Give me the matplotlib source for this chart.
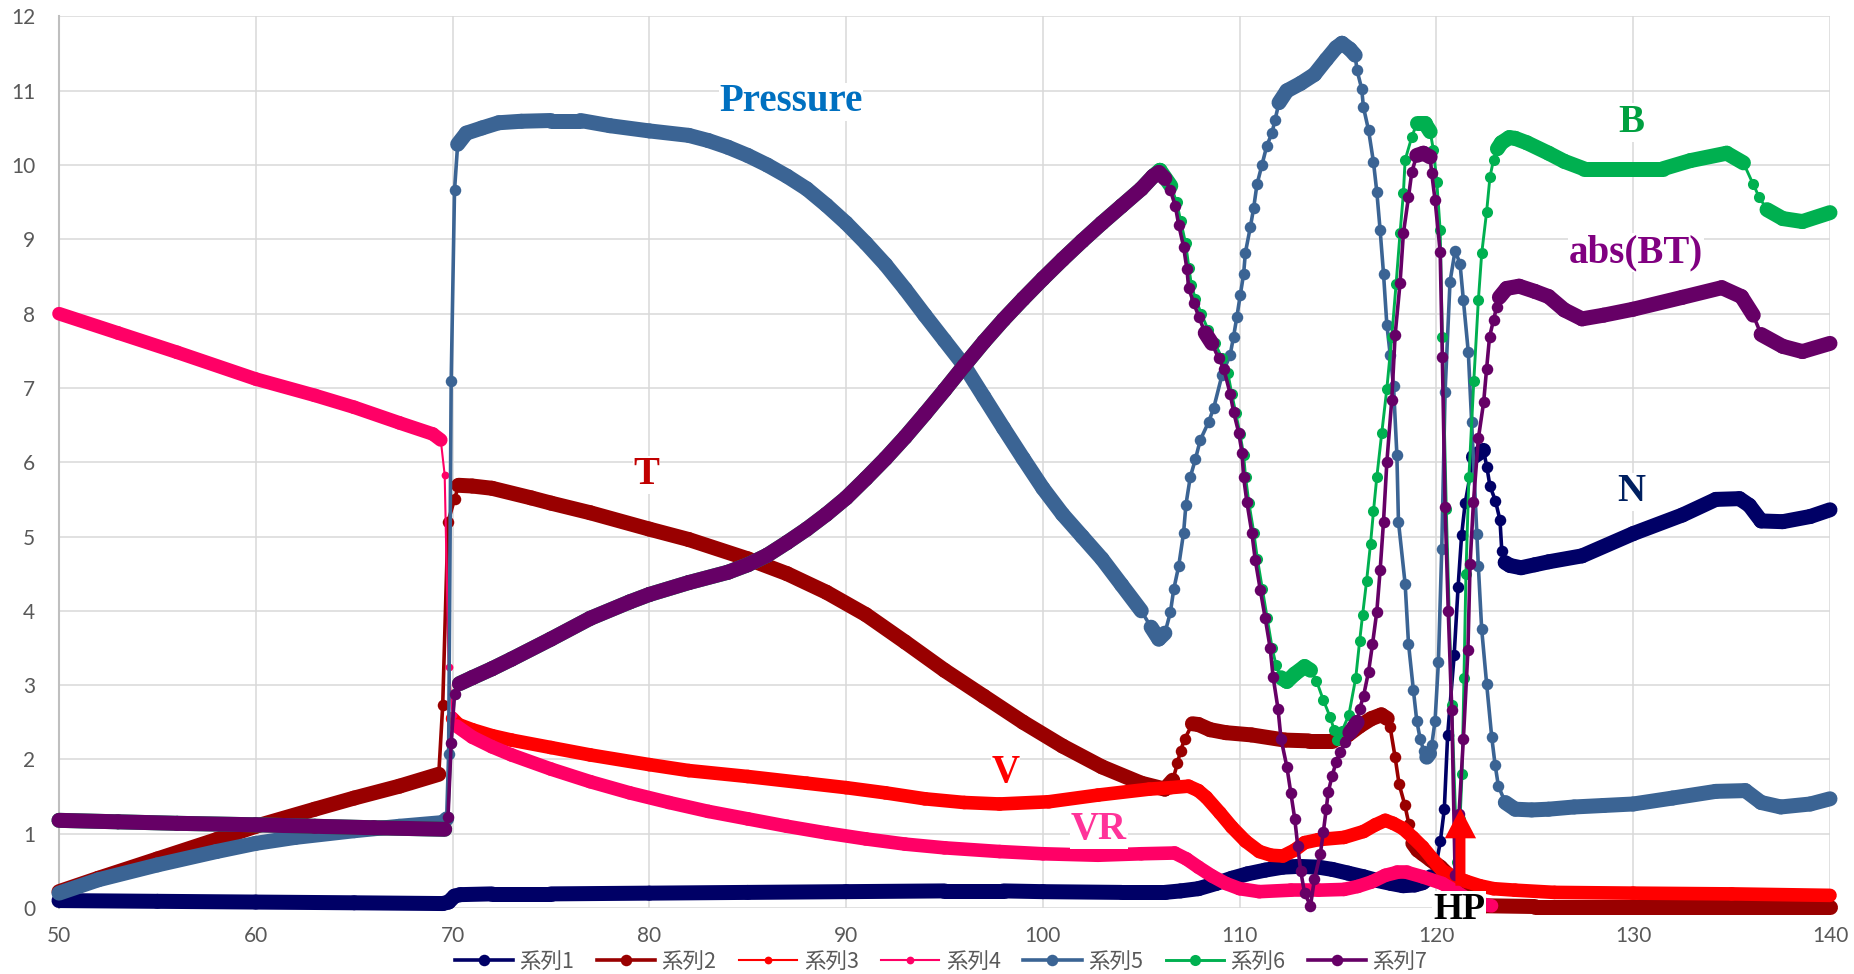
import numpy as np
import matplotlib
matplotlib.use("Agg")
import matplotlib.pyplot as plt
from matplotlib.collections import LineCollection
from matplotlib.font_manager import FontProperties

plt.rcParams["font.family"] = ["Lato", "Noto Sans CJK JP", "DejaVu Sans"]

# ---------------------------------------------------------------- data
# (x, value) samples for each series
series1_N = [
    (50.0, 0.10), (55.0, 0.09), (60.0, 0.08), (65.0, 0.07), (69.5, 0.06), (69.8, 0.08), (70.1, 0.16),
    (70.4, 0.18), (72.0, 0.19), (75.0, 0.19), (80.0, 0.20), (85.0, 0.21), (90.0, 0.22), (95.0, 0.23),
    (98.0, 0.23), (100.0, 0.22), (104.0, 0.21), (106.2, 0.21), (107.0, 0.23), (107.9, 0.26), (108.8, 0.33),
    (109.6, 0.40), (110.4, 0.46), (111.3, 0.51), (112.2, 0.55), (113.0, 0.56), (114.0, 0.55), (114.7, 0.52),
    (115.5, 0.47), (116.3, 0.42), (117.0, 0.37), (117.7, 0.33), (118.3, 0.30), (118.9, 0.31), (119.3, 0.34),
    (119.7, 0.42), (120.0, 0.60), (120.2, 0.90), (120.4, 1.33), (120.57, 2.33), (120.9, 3.40), (121.1, 4.32),
    (121.28, 5.02), (121.46, 5.45), (121.88, 6.07), (122.39, 6.16), (122.56, 5.94), (122.72, 5.68),
    (123.0, 5.48), (123.23, 5.22), (123.32, 4.81), (123.49, 4.65), (123.74, 4.61), (124.3, 4.58),
    (125.0, 4.62), (125.7, 4.66), (127.4, 4.74), (130.0, 5.04), (132.5, 5.29), (134.2, 5.50), (135.4, 5.51),
    (135.9, 5.42), (136.5, 5.21), (137.6, 5.20), (139.0, 5.27), (140.0, 5.36),
]

series2_T = [
    (50.0, 0.22), (52.0, 0.40), (55.0, 0.66), (58.0, 0.92), (60.0, 1.10), (63.0, 1.33), (65.0, 1.48),
    (67.3, 1.64), (69.3, 1.80), (69.5, 2.73), (69.77, 5.20), (70.1, 5.50), (70.3, 5.69), (71.0, 5.68),
    (72.0, 5.65), (74.0, 5.52), (75.0, 5.45), (77.0, 5.32), (80.0, 5.10), (82.0, 4.96), (85.0, 4.70),
    (87.0, 4.50), (89.0, 4.25), (91.0, 3.95), (93.0, 3.58), (95.0, 3.20), (97.0, 2.85), (99.0, 2.50),
    (101.0, 2.18), (103.0, 1.90), (105.0, 1.68), (106.2, 1.60), (106.6, 1.72), (106.84, 1.95), (107.0, 2.12),
    (107.2, 2.27), (107.6, 2.48), (107.9, 2.47), (108.5, 2.40), (109.3, 2.36), (110.6, 2.33), (112.3, 2.26),
    (113.5, 2.25), (114.7, 2.25), (115.5, 2.33), (116.1, 2.45), (116.7, 2.55), (117.2, 2.60), (117.5, 2.55),
    (117.65, 2.43), (117.9, 2.03), (118.1, 1.67), (118.4, 1.38), (118.6, 1.13), (118.8, 0.87), (119.05, 0.78),
    (119.3, 0.73), (119.7, 0.65), (120.2, 0.55), (120.7, 0.42), (121.2, 0.30), (121.6, 0.18), (122.0, 0.08),
    (122.5, 0.03), (125.0, 0.02), (130.0, 0.02), (135.0, 0.02), (140.0, 0.02),
]

series3_V = [
    (70.0, 2.55), (70.3, 2.47), (71.0, 2.40), (72.0, 2.32), (73.0, 2.26), (75.0, 2.16), (77.0, 2.06),
    (80.0, 1.93), (82.0, 1.85), (85.0, 1.77), (88.0, 1.68), (90.0, 1.62), (92.0, 1.55), (94.0, 1.47),
    (96.0, 1.42), (97.8, 1.40), (100.3, 1.43), (102.8, 1.52), (105.4, 1.60), (106.5, 1.62), (107.4, 1.64),
    (107.9, 1.58), (108.3, 1.49), (109.0, 1.28), (109.6, 1.09), (110.3, 0.90), (111.0, 0.76), (111.6, 0.71),
    (112.2, 0.70), (112.8, 0.78), (113.3, 0.88), (114.0, 0.92), (115.3, 0.95), (116.3, 1.03), (116.9, 1.12),
    (117.4, 1.18), (117.8, 1.14), (118.3, 1.07), (118.8, 0.95), (119.3, 0.82), (119.8, 0.66), (120.3, 0.50),
    (120.9, 0.42), (121.5, 0.36), (122.2, 0.30), (122.9, 0.26), (124.0, 0.24), (126.0, 0.21), (130.0, 0.20),
    (135.0, 0.19), (140.0, 0.17),
]

series4_VR = [
    (50.0, 8.00), (53.0, 7.74), (56.0, 7.48), (60.0, 7.12), (63.0, 6.90), (65.0, 6.74), (67.3, 6.53),
    (69.0, 6.38), (69.4, 6.30), (69.6, 5.83), (69.8, 3.25), (70.0, 2.60), (70.2, 2.45), (71.0, 2.30),
    (72.0, 2.17), (73.0, 2.06), (75.0, 1.87), (77.0, 1.70), (79.0, 1.55), (81.0, 1.42), (83.0, 1.30),
    (85.0, 1.20), (87.0, 1.10), (89.0, 1.01), (91.0, 0.93), (93.0, 0.86), (95.0, 0.81), (97.8, 0.76),
    (100.0, 0.73), (102.8, 0.71), (105.0, 0.73), (106.7, 0.74), (107.3, 0.66), (107.9, 0.55), (108.6, 0.43),
    (109.3, 0.33), (110.0, 0.26), (111.0, 0.22), (112.6, 0.24), (114.0, 0.24), (115.3, 0.25), (116.0, 0.29),
    (116.7, 0.35), (117.4, 0.44), (118.0, 0.48), (118.5, 0.48), (119.3, 0.42), (120.3, 0.33), (121.0, 0.22),
    (121.6, 0.12), (122.2, 0.06), (122.8, 0.03),
]

series5_P = [
    (50.0, 0.20), (52.0, 0.38), (55.0, 0.58), (58.0, 0.76), (60.0, 0.87), (62.0, 0.95), (65.0, 1.04),
    (67.3, 1.10), (69.5, 1.15), (69.7, 1.20), (69.8, 2.07), (69.93, 7.09), (70.1, 9.66), (70.26, 10.28),
    (70.7, 10.43), (71.5, 10.50), (72.35, 10.57), (73.5, 10.59), (75.0, 10.60), (76.5, 10.60), (78.0, 10.53),
    (80.0, 10.46), (82.0, 10.40), (83.0, 10.33), (84.0, 10.24), (85.0, 10.13), (86.0, 10.00), (87.0, 9.85),
    (88.0, 9.68), (89.0, 9.46), (90.0, 9.22), (91.0, 8.95), (92.0, 8.66), (93.0, 8.33), (94.0, 7.98),
    (95.0, 7.64), (96.0, 7.30), (97.0, 6.88), (98.0, 6.46), (99.0, 6.05), (100.0, 5.65), (101.0, 5.30),
    (102.0, 5.00), (103.0, 4.70), (104.0, 4.35), (105.0, 4.00), (105.5, 3.78), (105.89, 3.62), (106.2, 3.70),
    (106.48, 3.98), (106.65, 4.29), (106.9, 4.60), (107.15, 5.05), (107.27, 5.43), (107.49, 5.80),
    (107.75, 6.04), (108.0, 6.30), (108.42, 6.54), (108.68, 6.73), (109.1, 7.17), (109.52, 7.45),
    (109.69, 7.69), (109.86, 7.96), (110.03, 8.25), (110.2, 8.53), (110.29, 8.82), (110.54, 9.16),
    (110.71, 9.42), (110.88, 9.74), (111.13, 10.00), (111.38, 10.26), (111.64, 10.43), (111.8, 10.61),
    (112.0, 10.84), (112.4, 11.00), (113.1, 11.10), (113.8, 11.22), (114.4, 11.42), (114.9, 11.58),
    (115.2, 11.64), (115.6, 11.56), (115.87, 11.48), (115.96, 11.28), (116.2, 11.03), (116.29, 10.78),
    (116.55, 10.47), (116.8, 10.04), (116.97, 9.64), (117.14, 9.12), (117.31, 8.54), (117.48, 7.85),
    (117.65, 7.45), (117.82, 7.02), (117.99, 6.10), (118.07, 5.20), (118.41, 4.36), (118.58, 3.56),
    (118.83, 2.93), (119.0, 2.52), (119.17, 2.28), (119.35, 2.12), (119.51, 2.03), (119.65, 2.08),
    (119.76, 2.19), (119.93, 2.52), (120.1, 3.31), (120.27, 4.83), (120.44, 6.95), (120.69, 8.43),
    (120.95, 8.85), (121.2, 8.67), (121.37, 8.18), (121.62, 7.48), (121.79, 6.54), (122.05, 5.04),
    (122.13, 4.60), (122.3, 3.75), (122.55, 3.02), (122.81, 2.30), (122.98, 1.93), (123.15, 1.64),
    (123.5, 1.42), (124.0, 1.33), (124.84, 1.32), (125.7, 1.33), (127.0, 1.36), (128.5, 1.38),
    (130.0, 1.40), (132.0, 1.48), (134.2, 1.57), (135.7, 1.58), (136.5, 1.42), (137.5, 1.36),
    (139.0, 1.40), (140.0, 1.47),
]

series6_B = [
    (50.0, 1.18), (53.0, 1.16), (56.0, 1.14), (60.0, 1.12), (63.0, 1.10), (66.0, 1.08), (69.6, 1.06),
    (69.77, 1.23), (69.93, 2.22), (70.1, 2.88), (70.35, 3.02), (71.0, 3.10), (72.0, 3.22), (73.0, 3.35),
    (75.0, 3.62), (77.0, 3.90), (79.0, 4.12), (80.0, 4.22), (82.0, 4.38), (84.0, 4.52), (85.0, 4.62),
    (86.0, 4.75), (87.0, 4.92), (88.0, 5.10), (89.0, 5.30), (90.0, 5.52), (91.0, 5.78), (92.0, 6.05),
    (93.0, 6.34), (94.0, 6.65), (95.0, 6.97), (96.0, 7.30), (97.0, 7.62), (98.0, 7.92), (99.0, 8.20),
    (100.0, 8.47), (101.0, 8.73), (102.0, 8.98), (103.0, 9.22), (104.0, 9.45), (105.0, 9.68), (105.6, 9.85),
    (105.95, 9.93), (106.5, 9.72), (106.8, 9.50), (107.0, 9.25), (107.25, 8.95), (107.42, 8.62),
    (107.55, 8.38), (107.75, 8.20), (108.05, 8.00), (108.4, 7.78), (108.75, 7.60), (109.1, 7.40),
    (109.4, 7.20), (109.6, 6.92), (109.8, 6.66), (110.02, 6.38), (110.2, 6.10), (110.3, 5.80),
    (110.47, 5.45), (110.72, 5.05), (110.9, 4.70), (111.15, 4.30), (111.4, 3.90), (111.65, 3.50),
    (111.85, 3.27), (112.1, 3.10), (112.4, 3.05), (112.8, 3.15), (113.3, 3.25), (113.6, 3.20),
    (113.9, 3.06), (114.25, 2.80), (114.6, 2.57), (114.8, 2.40), (114.95, 2.26), (115.2, 2.38),
    (115.55, 2.60), (115.9, 3.10), (116.1, 3.60), (116.25, 3.95), (116.45, 4.40), (116.65, 4.90),
    (116.8, 5.34), (116.97, 5.80), (117.22, 6.39), (117.48, 6.99), (117.73, 7.69), (117.95, 8.40),
    (118.15, 9.08), (118.32, 9.62), (118.41, 10.07), (118.75, 10.38), (119.0, 10.56), (119.42, 10.56),
    (119.68, 10.45), (119.85, 10.20), (120.02, 9.77), (120.19, 9.12), (120.3, 7.69), (120.5, 5.37),
    (120.78, 2.73), (121.05, 0.62), (121.2, 1.20), (121.3, 1.80), (121.4, 3.10), (121.5, 4.50),
    (121.65, 5.80), (121.9, 7.10), (122.13, 8.18), (122.3, 8.81), (122.55, 9.37), (122.72, 9.84),
    (122.9, 10.07), (123.1, 10.22), (123.3, 10.30), (123.7, 10.37), (124.0, 10.36), (124.6, 10.30),
    (125.7, 10.16), (126.5, 10.05), (127.5, 9.95), (130.0, 9.95), (131.5, 9.95), (132.9, 10.06),
    (134.75, 10.16), (135.6, 10.03), (136.1, 9.74), (136.4, 9.57), (136.8, 9.40), (137.6, 9.28),
    (138.6, 9.24), (140.0, 9.36),
]

series7_BT = [
    (50.0, 1.18), (53.0, 1.16), (56.0, 1.14), (60.0, 1.12), (63.0, 1.10), (66.0, 1.08), (69.6, 1.06),
    (69.77, 1.23), (69.93, 2.22), (70.1, 2.88), (70.35, 3.02), (71.0, 3.10), (72.0, 3.22), (73.0, 3.35),
    (75.0, 3.62), (77.0, 3.90), (79.0, 4.12), (80.0, 4.22), (82.0, 4.38), (84.0, 4.52), (85.0, 4.62),
    (86.0, 4.75), (87.0, 4.92), (88.0, 5.10), (89.0, 5.30), (90.0, 5.52), (91.0, 5.78), (92.0, 6.05),
    (93.0, 6.34), (94.0, 6.65), (95.0, 6.97), (96.0, 7.30), (97.0, 7.62), (98.0, 7.92), (99.0, 8.20),
    (100.0, 8.47), (101.0, 8.73), (102.0, 8.98), (103.0, 9.22), (104.0, 9.45), (105.0, 9.68), (105.6, 9.85),
    (105.89, 9.90), (106.2, 9.82), (106.48, 9.66), (106.73, 9.45), (106.9, 9.20), (107.15, 8.90),
    (107.32, 8.60), (107.41, 8.34), (107.66, 8.15), (107.92, 7.96), (108.25, 7.74), (108.59, 7.60),
    (108.93, 7.40), (109.19, 7.26), (109.52, 6.92), (109.69, 6.68), (109.95, 6.40), (110.12, 6.13),
    (110.2, 5.80), (110.37, 5.46), (110.62, 5.05), (110.79, 4.69), (111.05, 4.28), (111.3, 3.90),
    (111.55, 3.50), (111.7, 3.11), (111.95, 2.68), (112.1, 2.28), (112.4, 1.90), (112.6, 1.55),
    (112.8, 1.20), (112.95, 0.84), (113.1, 0.50), (113.3, 0.20), (113.6, 0.03), (113.8, 0.39),
    (114.1, 0.73), (114.25, 1.02), (114.4, 1.33), (114.5, 1.56), (114.7, 1.78), (114.9, 1.96),
    (115.1, 2.10), (115.35, 2.23), (115.6, 2.36), (115.97, 2.50), (116.1, 2.68), (116.3, 2.86),
    (116.55, 3.18), (116.75, 3.55), (116.97, 3.99), (117.14, 4.55), (117.31, 5.20), (117.48, 6.00),
    (117.73, 6.84), (117.9, 7.71), (118.15, 8.41), (118.32, 9.08), (118.58, 9.57), (118.75, 9.91),
    (119.0, 10.13), (119.34, 10.16), (119.68, 10.11), (119.76, 9.89), (119.93, 9.53), (120.19, 8.83),
    (120.3, 7.42), (120.44, 5.40), (120.6, 4.00), (120.78, 2.66), (120.95, 0.44), (121.15, 1.27),
    (121.37, 2.28), (121.6, 3.47), (121.71, 4.63), (121.88, 5.46), (122.13, 6.32), (122.4, 6.81),
    (122.55, 7.26), (122.7, 7.69), (122.9, 7.91), (123.06, 8.09), (123.2, 8.22), (123.57, 8.34),
    (124.2, 8.37), (125.0, 8.30), (125.7, 8.23), (126.5, 8.05), (127.4, 7.93), (128.5, 7.98),
    (130.0, 8.06), (132.5, 8.22), (134.5, 8.35), (135.5, 8.23), (136.1, 7.98), (136.5, 7.72),
    (137.6, 7.56), (138.6, 7.49), (140.0, 7.60),
]

legend_labels = ["系列1", "系列2", "系列3", "系列4", "系列5", "系列6", "系列7"]
x_ticks = list(range(50, 141, 10))
y_ticks = list(range(0, 13))

# (label text, x, y, colour)
annotations = [
    ("Pressure", 87.2, 10.85, "#0070C0"),
    ("T", 79.85, 5.83, "#C00000"),
    ("V", 98.1, 1.83, "#FF0000"),
    ("VR", 102.85, 1.05, "#FF3399"),
    ("B", 129.9, 10.57, "#00A040"),
    ("abs(BT)", 130.15, 8.82, "#800080"),
    ("N", 129.9, 5.60, "#002060"),
]

# ---------------------------------------------------------------- figure
fig = plt.figure(figsize=(18.54, 9.74), dpi=100)
ax = fig.add_axes([0.03182, 0.06776, 0.95523, 0.91530])
ax.set_xlim(50, 140)
ax.set_ylim(0, 12)
ax.autoscale(False)
ax.set_xticks(x_ticks)
ax.set_yticks(y_ticks)
ax.grid(True, color="#D9D9D9", lw=1.1)
ax.set_axisbelow(True)
for side, sp in ax.spines.items():
    sp.set_visible(side == "left")
ax.spines["left"].set_color("#BFBFBF")
ax.spines["left"].set_linewidth(1.5)
ax.tick_params(length=0, labelsize=15, labelcolor="#595959")
ax.tick_params(axis="x", pad=13)
ax.tick_params(axis="y", pad=17)


def draw(points, color, thin, marker, band, z, label):
    """Line with circle markers; where samples sit close together the
    overlapping markers merge into a solid band."""
    x, y = (np.asarray(v, float) for v in zip(*points))
    px = ax.transData.transform(np.column_stack([x, y]))
    d = np.diff(px, axis=0)
    dense = np.abs(d[:, 1]) <= 1.6 * np.abs(d[:, 0])
    segs = [np.column_stack([x[i:i + 2], y[i:i + 2]]) for i in np.flatnonzero(dense)]
    if segs:
        ax.add_collection(LineCollection(segs, colors=color, linewidths=band,
                                         capstyle="round", joinstyle="round",
                                         zorder=z, clip_on=False), autolim=False)
    ln, = ax.plot(x, y, color=color, lw=thin, marker="o", ms=marker, mew=0,
                  zorder=z, clip_on=False, label=label, solid_joinstyle="round")
    return ln


styles = [
    (series1_N, "#000066", 2.6, 8.3, 10.8),
    (series2_T, "#990000", 2.6, 8.3, 10.8),
    (series3_V, "#FF0000", 1.5, 5.6, 9.8),
    (series4_VR, "#FF0066", 1.5, 5.6, 9.8),
    (series5_P, "#3B6494", 2.6, 8.3, 10.8),
    (series6_B, "#00B050", 2.1, 8.0, 10.8),
    (series7_BT, "#660066", 2.6, 8.3, 10.8),
]
handles = []
for i, ((pts, col, thin, mk, band), lab) in enumerate(zip(styles, legend_labels)):
    handles.append(draw(pts, col, thin, mk, band, 3 + i, lab))

serif = dict(family="Liberation Serif", fontweight="bold", fontsize=28)
for text, tx, ty, col in annotations:
    ax.text(tx, ty, text, color=col, ha="center", va="center", zorder=20,
            bbox=dict(fc="white", ec="none", pad=0.5), **serif)

# HP marker: red arrow standing on the label
ax.annotate("", xy=(121.22, 1.34), xytext=(121.22, 0.30), zorder=18,
            annotation_clip=False,
            arrowprops=dict(arrowstyle="simple,head_length=2.15,head_width=2.25,tail_width=0.72",
                            mutation_scale=10, fc="#FF0000", ec="none",
                            shrinkA=0, shrinkB=0))
ax.text(121.15, -0.02, "HP", color="black", ha="center", va="center", zorder=21,
        clip_on=False, bbox=dict(fc="white", ec="none", pad=0.5),
        family="Liberation Serif", fontweight="bold", fontsize=27)

fig.legend(handles, legend_labels, loc="center", bbox_to_anchor=(0.5076, 0.0126),
           ncol=7, frameon=False, handlelength=2.7, handletextpad=0.3,
           columnspacing=1.05, labelcolor="#595959",
           prop=FontProperties(family=["Noto Sans CJK JP"], size=15.5))

fig.savefig("out.png", dpi=100)
